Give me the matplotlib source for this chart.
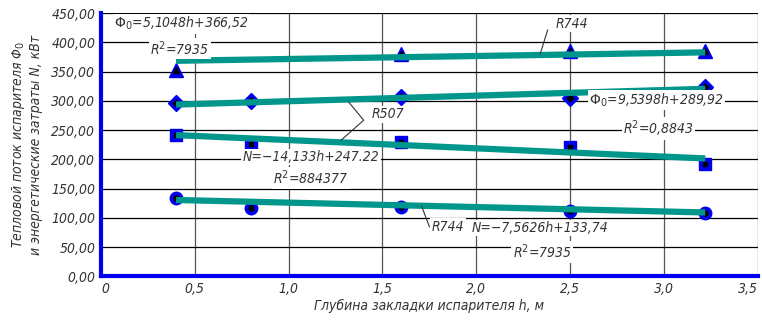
import numpy as np
import matplotlib.pyplot as plt

# depth of evaporator h, m
h = [0.4, 0.8, 1.6, 2.5, 3.22]
h_r744_phi = [0.4, 1.6, 2.5, 3.22]

# heat flow Phi0 and energy costs N, kW
phi_r744 = [352, 381, 386, 386]
phi_r507 = [296, 300, 306, 305, 323]
n_r507 = [241, 227, 229, 221, 192]
n_r744 = [134, 117, 119, 112, 108]

# trend lines (slope, intercept)
fit_phi_r744 = (5.1048, 366.52)
fit_phi_r507 = (9.5398, 289.92)
fit_n_r507 = (-14.133, 247.22)
fit_n_r744 = (-7.5626, 133.74)

yticks = np.arange(0, 451, 50)
xticks = np.arange(0, 3.51, 0.5)

blue = '#0000ee'
teal = '#00968c'
fnt = dict(family='DejaVu Sans', style='italic', stretch='condensed', color='#333333')

fig = plt.figure(figsize=(7.62, 3.2), dpi=100)
ax = fig.add_axes([0.1325, 0.136, 0.862, 0.823])

def draw_series(x, y, fit, marker, size):
    ax.plot(x, y, linestyle='none', marker=marker, ms=size, color=blue, zorder=3)
    ax.plot(x, y, linestyle='none', marker=marker, ms=size * 0.4, color='black', zorder=4)
    xx = np.array([x[0], x[-1]])
    ax.plot(xx, fit[0] * xx + fit[1], color=teal, lw=4.5, zorder=5, solid_capstyle='butt')

draw_series(h_r744_phi, phi_r744, fit_phi_r744, '^', 9.5)
draw_series(h, phi_r507, fit_phi_r507, 'D', 8.5)
draw_series(h, n_r507, fit_n_r507, 's', 8)
draw_series(h, n_r744, fit_n_r744, 'o', 9)

ax.set_xlim(0, 3.5)
ax.set_ylim(0, 450)
ax.set_yticks(yticks)
ax.set_xticks(xticks)
ax.set_yticklabels([f'{v:.2f}'.replace('.', ',') for v in yticks], fontsize=10, **fnt)
xl = ax.set_xticklabels(['0'] + [f'{v:.1f}'.replace('.', ',') for v in xticks[1:]], fontsize=10, **fnt)
xl[-1].set_horizontalalignment('right')
xl[0].set_horizontalalignment('left')
ax.tick_params(length=0, pad=4)
ax.grid(axis='y', color='black', lw=0.9, zorder=1)
ax.grid(axis='x', color='#555555', lw=0.9, zorder=1)
for s in ['top', 'right']:
    ax.spines[s].set_visible(False)
for s in ['left', 'bottom']:
    ax.spines[s].set_color(blue)
    ax.spines[s].set_linewidth(3)
    ax.spines[s].set_zorder(6)

box = dict(facecolor='white', edgecolor='none', pad=1)

def label(x, y, s):
    ax.text(x, y, s, ha='center', va='center', fontsize=10, bbox=box, zorder=7, **fnt)

label(0.43, 432, r'$\Phi_0$=5,1048h+366,52')
label(0.42, 390, r'R$^2$=7935')
label(2.51, 432, 'R744')
label(1.53, 277, 'R507')
label(1.12, 204, 'N=−14,133h+247.22')
label(1.12, 168, r'R$^2$=884377')
label(2.96, 301, r'$\Phi_0$=9,5398h+289,92')
label(2.97, 253, r'R$^2$=0,8843')
label(1.85, 85, 'R744')
label(2.34, 83, 'N=−7,5626h+133,74')
label(2.35, 42, r'R$^2$=7935')

# leader lines
ax.plot([2.38, 2.34], [421, 380], color='#333333', lw=0.8, zorder=6)
ax.plot([1.32, 1.40, 1.28], [298, 267, 233], color='#333333', lw=0.8, zorder=6)
ax.plot([1.71, 1.75], [119, 85], color='#333333', lw=0.8, zorder=6)

ax.set_xlabel('Глубина закладки испарителя h, м', fontsize=10, labelpad=2, **fnt)
ax.set_ylabel('Тепловой поток испарителя Φ$_0$\nи энергетические затраты N, кВт',
              fontsize=10, labelpad=6, **fnt)

fig.savefig('out.png', dpi=100)
